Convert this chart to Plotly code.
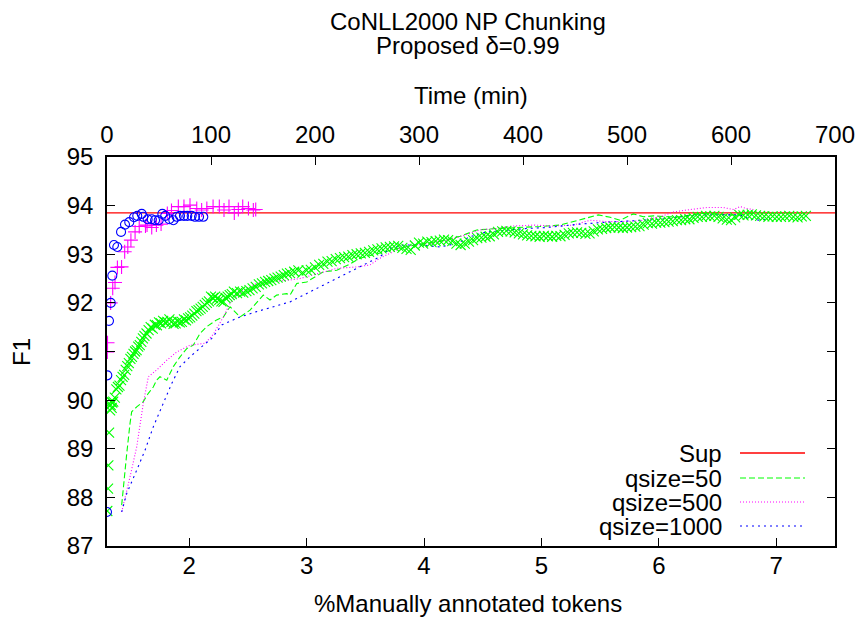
import plotly.graph_objects as go

# ---------------- data ----------------
title_lines = ["CoNLL2000 NP Chunking", "Proposed δ=0.99"]

pct_ticks = [2, 3, 4, 5, 6, 7]
time_ticks = [0, 100, 200, 300, 400, 500, 600, 700]
f1_ticks = [87, 88, 89, 90, 91, 92, 93, 94, 95]
pct_range = [1.3, 7.5]
time_range = [0, 700]
f1_range = [87, 95]

sup_f1 = 93.85

q50_pct = [1.425, 1.439, 1.468, 1.496, 1.510, 1.553, 1.609, 1.652, 1.694, 1.723, 1.751, 1.809,
           1.865, 1.922, 1.979, 2.035, 2.092, 2.149, 2.234, 2.291, 2.348, 2.433, 2.518, 2.631,
           2.688, 2.745, 2.831, 2.859, 2.916, 3.001, 3.142, 3.257, 3.370, 3.455, 3.625, 3.796,
           3.966, 4.136, 4.307, 4.449, 4.619, 4.818, 4.988, 5.159, 5.272, 5.386, 5.485, 5.585,
           5.670, 5.783, 5.868, 5.953, 6.068, 6.181, 6.351, 6.579, 6.692, 6.803]
q50_f1 = [87.84, 88.22, 88.90, 89.52, 89.76, 89.86, 89.97, 90.14, 90.27, 90.41, 90.48, 90.41,
          90.69, 90.89, 91.06, 91.13, 91.37, 91.51, 91.65, 91.71, 91.92, 91.71, 91.85, 92.16,
          92.06, 92.16, 92.19, 92.16, 92.40, 92.43, 92.64, 92.67, 92.80, 92.92, 93.03, 93.13,
          93.21, 93.27, 93.37, 93.50, 93.53, 93.55, 93.57, 93.60, 93.67, 93.74, 93.81, 93.76,
          93.70, 93.83, 93.77, 93.79, 93.77, 93.77, 93.84, 93.81, 93.81, 93.84]

q500_pct = [1.425, 1.453, 1.496, 1.553, 1.609, 1.652, 1.723, 1.809, 1.894, 2.007, 2.135, 2.205,
            2.291, 2.348, 2.461, 2.575, 2.717, 2.859, 2.944, 3.114, 3.257, 3.427, 3.540, 3.625,
            3.711, 3.796, 3.909, 4.051, 4.194, 4.307, 4.477, 4.619, 4.761, 4.931, 5.102, 5.272,
            5.414, 5.556, 5.670, 5.840, 6.010, 6.124, 6.266, 6.408, 6.550, 6.635, 6.692, 6.749,
            6.805]
q500_f1 = [87.70, 88.01, 88.42, 89.04, 89.93, 90.48, 90.62, 90.82, 90.99, 91.13, 91.17, 91.35,
           91.71, 91.99, 92.26, 92.40, 92.43, 92.47, 92.50, 92.61, 92.71, 92.74, 92.78, 92.92,
           93.02, 93.12, 93.19, 93.22, 93.29, 93.36, 93.50, 93.53, 93.58, 93.60, 93.58, 93.60,
           93.70, 93.67, 93.67, 93.69, 93.77, 93.87, 93.92, 93.96, 93.96, 93.92, 93.98, 93.94,
           93.92]

q1000_pct = [1.425, 1.468, 1.553, 1.624, 1.694, 1.766, 1.851, 1.922, 2.007, 2.107, 2.192, 2.280,
             2.433, 2.575, 2.717, 2.859, 2.916, 3.057, 3.200, 3.342, 3.483, 3.625, 3.711, 3.824,
             3.966, 4.136, 4.279, 4.392, 4.534, 4.705, 4.875, 5.045, 5.159, 5.329, 5.499, 5.670,
             5.840, 6.010, 6.181, 6.351, 6.521, 6.692, 6.777, 6.862, 6.947]
q1000_f1 = [87.70, 88.08, 88.56, 88.97, 89.45, 89.86, 90.34, 90.69, 90.89, 91.10, 91.27, 91.55,
            91.71, 91.82, 91.92, 92.02, 92.09, 92.26, 92.43, 92.61, 92.78, 92.95, 93.12, 93.19,
            93.19, 93.15, 93.22, 93.36, 93.46, 93.50, 93.53, 93.55, 93.58, 93.62, 93.65, 93.67,
            93.69, 93.72, 93.77, 93.81, 93.81, 93.81, 93.72, 93.70, 93.74]

# points against time (top axis)
blue_time = [0, 0.3, 1.9, 3.6, 5.1, 6.7, 9.9, 13.5, 17.3, 21.4, 26.0, 29.1, 33.4, 34.9, 39.1,
             43.0, 46.2, 49.7, 53.2, 56.0, 59.9, 63.8, 67.0, 70.2, 74.0, 77.2, 81.4, 84.6,
             88.5, 92.6]
blue_f1 = [87.70, 90.51, 91.63, 92.00, 92.56, 93.19, 93.15, 93.46, 93.61, 93.66, 93.76, 93.79,
           93.83, 93.77, 93.72, 93.72, 93.70, 93.70, 93.83, 93.79, 93.72, 93.70, 93.77, 93.79,
           93.79, 93.79, 93.79, 93.77, 93.77, 93.77]

magenta_time = [0.3, 0.5, 3.5, 5.5, 7.7, 10.0, 14.0, 17.0, 20.0, 23.0, 27.0, 31.0, 37.0, 38.5,
                43.0, 47.5, 52.0, 58.0, 62.0, 68.6, 74.0, 79.8, 86.3, 91.0, 96.0, 102.0, 108.0,
                112.5, 117.3, 122.4, 126.3, 130.5, 136.0, 140.7, 143.0]
magenta_f1 = [90.99, 91.18, 92.00, 92.30, 92.42, 92.73, 92.74, 93.05, 93.15, 93.29, 93.46, 93.57,
              93.58, 93.60, 93.55, 93.60, 93.62, 93.84, 93.90, 93.98, 93.98, 94.01, 93.94, 93.91,
              93.94, 93.98, 93.98, 93.91, 93.98, 93.85, 93.92, 93.98, 93.94, 93.91, 93.92]

green_time = [0.3, 1.0, 1.3, 2.0, 3.0, 3.5, 4.0, 4.5, 5.0, 6.0, 7.5, 9.0, 10.5, 12.0, 13.5, 15.0,
              16.5, 18.0, 19.5, 21.0, 22.5, 24.0, 25.5, 27.0, 28.5, 30.0, 31.5, 33.0, 34.5, 36.0,
              38.0, 40.0, 42.0, 44.0, 46.0, 48.0, 50.0, 52.0, 54.0, 56.0, 58.0, 60.0, 62.0, 64.0,
              66.0, 68.0, 70.0, 72.0, 74.0, 76.0, 78.0, 80.0, 82.0, 84.0, 86.0, 88.0, 90.0, 92.0,
              94.0, 96.0, 98.0, 100.0, 102.0, 104.0, 106.0, 108.0, 110.0, 112.0, 114.0, 116.0,
              118.0, 120.0, 122.0, 125.0, 128.0, 131.0, 134.0, 137.0, 140.0, 143.0, 146.0, 149.0,
              152.0, 155.0, 158.0, 161.0, 164.0, 167.0, 170.0, 173.0, 176.0, 180.0, 184.0, 188.0,
              192.0, 196.0, 200.0, 204.0, 208.0, 212.0, 216.0, 220.0, 224.0, 228.0, 232.0, 236.0,
              240.0, 244.0, 248.0, 252.0, 256.0, 260.0, 264.0, 268.0, 272.0, 276.0, 280.0, 284.0,
              288.0, 292.0, 296.0, 300.0, 304.0, 308.0, 312.0, 316.0, 320.0, 324.0, 328.0, 332.0,
              336.0, 340.0, 344.0, 348.0, 352.0, 356.0, 360.0, 364.0, 368.0, 372.0, 376.0, 380.0,
              384.0, 388.0, 392.0, 396.0, 400.0, 404.0, 408.0, 412.0, 416.0, 420.0, 424.0, 428.0,
              432.0, 436.0, 440.0, 444.0, 448.0, 452.0, 456.0, 460.0, 464.0, 468.0, 472.0, 476.0,
              480.0, 484.0, 488.0, 492.0, 496.0, 500.0, 504.0, 508.0, 512.0, 516.0, 520.0, 524.0,
              528.0, 532.0, 536.0, 540.0, 544.0, 548.0, 552.0, 556.0, 560.0, 564.0, 568.0, 572.0,
              576.0, 580.0, 584.0, 588.0, 592.0, 596.0, 600.0, 604.0, 608.0, 612.0, 616.0, 620.0,
              624.0, 628.0, 632.0, 636.0, 640.0, 644.0, 648.0, 652.0, 656.0, 660.0, 664.0, 668.0,
              672.0]
green_f1 = [87.72, 88.18, 88.66, 89.33, 89.79, 89.90, 89.97, 89.84, 89.95, 89.97, 90.05, 90.22,
            90.27, 90.30, 90.41, 90.48, 90.52, 90.62, 90.70, 90.76, 90.85, 90.89, 90.95, 91.00,
            91.03, 91.10, 91.13, 91.20, 91.27, 91.32, 91.37, 91.44, 91.50, 91.47, 91.55, 91.54,
            91.60, 91.58, 91.63, 91.60, 91.61, 91.66, 91.61, 91.57, 91.58, 91.62, 91.60, 91.61,
            91.66, 91.64, 91.68, 91.70, 91.74, 91.78, 91.83, 91.85, 91.88, 91.92, 91.96, 92.00,
            92.03, 92.13, 92.10, 92.13, 92.09, 92.06, 92.03, 92.02, 92.10, 92.13, 92.16, 92.18,
            92.23, 92.20, 92.23, 92.21, 92.24, 92.26, 92.30, 92.33, 92.38, 92.40, 92.43, 92.45,
            92.47, 92.50, 92.52, 92.54, 92.57, 92.60, 92.61, 92.64, 92.67, 92.62, 92.67, 92.68,
            92.73, 92.78, 92.80, 92.85, 92.86, 92.90, 92.92, 92.94, 92.95, 92.98, 93.00, 93.02,
            93.03, 93.05, 93.08, 93.10, 93.12, 93.14, 93.15, 93.16, 93.17, 93.13, 93.11, 93.09,
            93.18, 93.24, 93.22, 93.26, 93.25, 93.27, 93.28, 93.30, 93.29, 93.27, 93.22, 93.19,
            93.22, 93.26, 93.29, 93.33, 93.34, 93.36, 93.37, 93.41, 93.46, 93.47, 93.48, 93.47,
            93.45, 93.43, 93.41, 93.39, 93.38, 93.37, 93.36, 93.38, 93.37, 93.36, 93.38, 93.37,
            93.40, 93.43, 93.44, 93.45, 93.44, 93.42, 93.43, 93.47, 93.51, 93.52, 93.54, 93.55,
            93.56, 93.55, 93.54, 93.55, 93.56, 93.57, 93.58, 93.61, 93.64, 93.63, 93.65, 93.65,
            93.66, 93.67, 93.68, 93.70, 93.70, 93.72, 93.72, 93.75, 93.77, 93.77, 93.79, 93.78,
            93.79, 93.77, 93.74, 93.71, 93.70, 93.76, 93.81, 93.80, 93.81, 93.82, 93.80, 93.79,
            93.78, 93.77, 93.78, 93.77, 93.77, 93.78, 93.79, 93.77, 93.76, 93.78, 93.79]

legend_names = ["Sup", "qsize=50", "qsize=500", "qsize=1000"]
legend_colors = ["#ff0000", "#00ff00", "#ff00ff", "#0000ff"]
legend_dashes = ["solid", "6px,3px", "1px,2px", "2px,4px"]

# ---------------- figure ----------------
FONT = "Liberation Sans, Arial, Helvetica, sans-serif"
FS = 24

fig = go.Figure()

fig.add_trace(go.Scatter(x=pct_range, y=[sup_f1, sup_f1], mode="lines",
                         line=dict(color=legend_colors[0], width=1.3),
                         xaxis="x", yaxis="y", showlegend=False, hoverinfo="skip"))
for xs, ys, i in [(q50_pct, q50_f1, 1), (q500_pct, q500_f1, 2), (q1000_pct, q1000_f1, 3)]:
    fig.add_trace(go.Scatter(x=xs, y=ys, mode="lines",
                             line=dict(color=legend_colors[i], width=1.1, dash=legend_dashes[i]),
                             xaxis="x", yaxis="y", showlegend=False))

fig.add_trace(go.Scatter(x=green_time, y=green_f1, mode="markers",
                         marker=dict(symbol="x-thin-open", size=10, color="#00ff00",
                                     line=dict(color="#00ff00", width=1.1)),
                         xaxis="x2", yaxis="y", showlegend=False))
fig.add_trace(go.Scatter(x=magenta_time, y=magenta_f1, mode="markers",
                         marker=dict(symbol="cross-thin-open", size=10, color="#ff00ff",
                                     line=dict(color="#ff00ff", width=1.1)),
                         xaxis="x2", yaxis="y", showlegend=False))
fig.add_trace(go.Scatter(x=blue_time, y=blue_f1, mode="markers",
                         marker=dict(symbol="circle-open", size=9, color="#0000ff",
                                     line=dict(color="#0000ff", width=1.1)),
                         xaxis="x2", yaxis="y", showlegend=False))

axis_common = dict(showgrid=False, zeroline=False, showline=True, linecolor="black",
                   linewidth=1.5, ticks="inside", ticklen=8, tickcolor="black", tickwidth=1,
                   automargin=False,
                   tickfont=dict(family=FONT, size=FS, color="black"))

fig.update_layout(
    width=860, height=619,
    margin=dict(l=107, r=25, t=157, b=73, pad=0, autoexpand=False),
    paper_bgcolor="white", plot_bgcolor="white",
    font=dict(family=FONT, size=FS, color="black"),
    showlegend=False,
    xaxis=dict(range=pct_range, tickvals=pct_ticks, anchor="y", ticklabelstandoff=-3, **axis_common),
    xaxis2=dict(range=time_range, tickvals=time_ticks, overlaying="x", side="top", anchor="y",
                ticklabelstandoff=3, **axis_common),
    yaxis=dict(range=f1_range, tickvals=f1_ticks, mirror="ticks", ticklabelstandoff=7, **axis_common),
)

# pixel (screen) -> paper coordinates; plot area spans x 107..835, y 157..546
def py2paper(py):
    return (546 - py) / 389.0

def px2paper(px):
    return (px - 107) / 728.0

annotations = [
    dict(text=title_lines[0], x=px2paper(468), y=py2paper(21)),
    dict(text=title_lines[1], x=px2paper(468), y=py2paper(46)),
    dict(text="Time (min)", x=px2paper(471), y=py2paper(96)),
    dict(text="%Manually annotated tokens", x=px2paper(468), y=py2paper(603)),
    dict(text="F1", x=px2paper(21), y=py2paper(352), textangle=-90),
]
for a in annotations:
    a.update(xref="paper", yref="paper", showarrow=False, xanchor="center", yanchor="middle",
             font=dict(family=FONT, size=FS, color="black"))

legend_rows_py = [453, 478, 502, 526]
shapes = []
for name, color, dash, py in zip(legend_names, legend_colors, legend_dashes, legend_rows_py):
    annotations.append(dict(text=name, x=px2paper(724), y=py2paper(py), xref="paper", yref="paper",
                            showarrow=False, xanchor="right", yanchor="middle",
                            font=dict(family=FONT, size=FS, color="black")))
    shapes.append(dict(type="line", xref="paper", yref="paper",
                       x0=px2paper(740), x1=px2paper(805), y0=py2paper(py), y1=py2paper(py),
                       line=dict(color=color, width=1.3 if dash == "solid" else 1.1, dash=dash)))

fig.update_layout(annotations=annotations, shapes=shapes)

fig.write_html("out.html", config={"displayModeBar": False},
               post_script="document.body.style.margin='0';")
